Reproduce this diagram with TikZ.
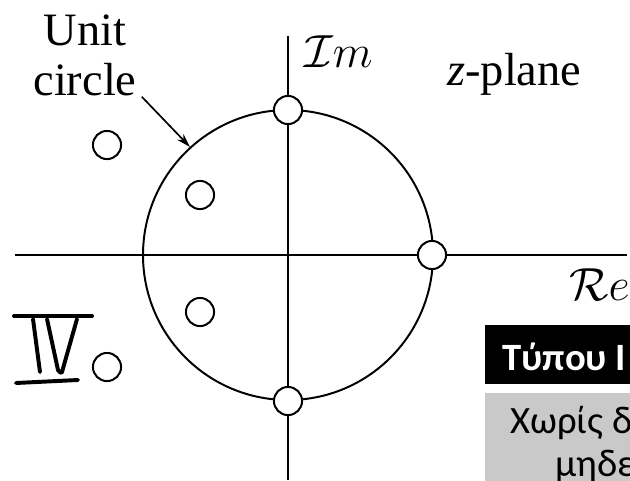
\RequirePackage{fix-cm}
\documentclass[tikz,border=0pt]{standalone}
\usepackage{fontspec}
\setmainfont{Liberation Serif}
\newfontfamily\grfont{Carlito}
\usetikzlibrary{positioning, calc, arrows.meta}

\begin{document}
\begin{tikzpicture}[
  x=0.025cm, y=-0.025cm,
  >={Stealth[length=10pt,width=6pt]},
  zero/.style={circle, draw=black, fill=white, line width=1.4pt,
               minimum size=20pt, inner sep=0pt},
  lbl/.style={font=\fontsize{33}{36}\selectfont, inner sep=0pt},
  hand/.style={line width=2.8pt, line cap=round, line join=round},
]
\useasboundingbox (0,0) rectangle (630,480);

% =====================================================================
% Axes and unit circle
% =====================================================================
\coordinate (o)  at (288,255);
\coordinate (xL) at (15,255);
\coordinate (xR) at (627,255);
\coordinate (yT) at (288,36);
\coordinate (yB) at (288,480);
\draw[line width=1.8pt] (xL) -- (xR);
\draw[line width=1.8pt] (yT) -- (yB);
\draw[line width=1.4pt] (o) circle (145);

% zeros: on the circle, then inside / outside pairs
\node[zero] (zt) at (288,110) {};
\node[zero] (zr) at (432,255) {};
\node[zero] (zb) at (288,401) {};
\node[zero] (z1) at (107,145) {};
\node[zero] (z2) at (200,195) {};
\node[zero] (z3) at (200,312) {};
\node[zero] (z4) at (107,367) {};

% =====================================================================
% Labels
% =====================================================================
\node[lbl, anchor=base] (unit) at (85,45) {Unit};
\node[lbl, anchor=base] (circ) at (85,95) {circle};
\coordinate (uc) at (190,147);
\draw[->, line width=1.2pt] ([shift={(5,1)}]circ.south east) -- (uc);

\node[lbl, anchor=base west] (im) at (304,67) {$\mathcal{I}m$};
\node[lbl, anchor=base west] (zp) at (447,85) {\textit{z}-plane};
\node[lbl, anchor=base west] (re) at (569,300) {$\mathcal{R}e$};

% hand-written IV
\draw[hand] (14,316) -- (92,316);
\draw[hand] (33,319) -- (40,372);
\draw[hand] (47,319) -- (58,370) to[out=-80,in=-100] (62,372) -- (77,319);
\draw[hand] (16,383) -- (78,380);

% =====================================================================
% Cut-off boxes at the right
% =====================================================================
\fill[black] (485,325) rectangle (650,384);
\node[anchor=base west, inner sep=0pt, text=white,
      font=\grfont\bfseries\fontsize{27.5}{32}\selectfont] (typ) at (502,370) {Τύπου Ι};
\fill[black!21] (485,393) rectangle (650,500);
\node[anchor=base west, inner sep=0pt,
      font=\grfont\fontsize{27.5}{32}\selectfont] (txa) at (510,433) {Χωρίς δε};
\node[anchor=base west, inner sep=0pt,
      font=\grfont\fontsize{27.5}{32}\selectfont] (txb) at (555,476) {μηδε};
\end{tikzpicture}
\end{document}
